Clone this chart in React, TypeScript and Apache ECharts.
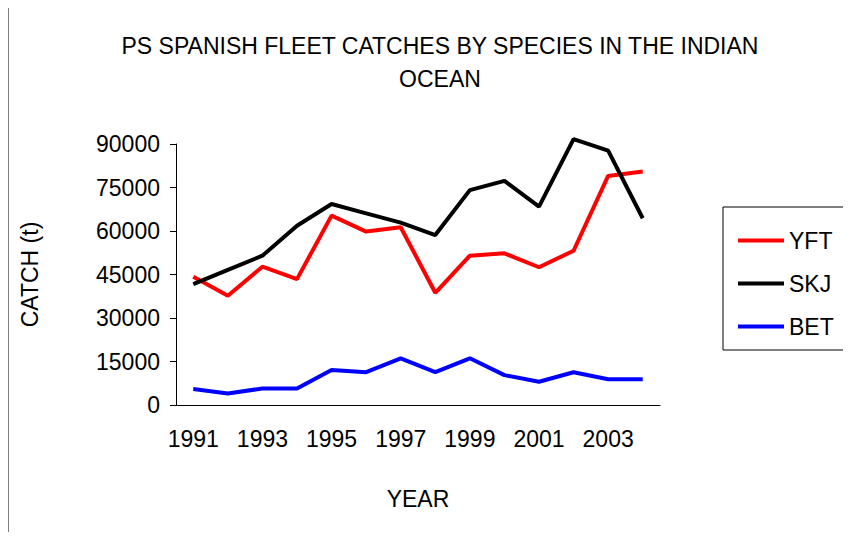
import * as echarts from "echarts";
import React, { useEffect, useRef } from "react";

const years = ["1991", "1992", "1993", "1994", "1995", "1996", "1997", "1998", "1999", "2000", "2001", "2002", "2003", "2004"];
const yft = [44200, 37700, 47700, 43400, 65300, 59800, 61300, 38700, 51500, 52300, 47500, 53200, 79000, 80500];
const skj = [41700, 46600, 51500, 61800, 69300, 66100, 62900, 58600, 74100, 77300, 68400, 91700, 87700, 64400];
const bet = [5500, 4000, 5700, 5700, 12100, 11300, 16100, 11300, 16100, 10300, 8000, 11300, 8900, 8900];

const font = "Liberation Sans, Arial, sans-serif";

export default function App() {
	const ref = useRef<HTMLDivElement>(null);

	useEffect(() => {
		const chart = echarts.init(ref.current, null, { renderer: "svg" });
		const line = (name: string, data: number[], color: string) => ({
			name,
			type: "line",
			data,
			symbol: "none",
			clip: false,
			lineStyle: { color, width: 4 },
			itemStyle: { color },
		});
		chart.setOption({
			animation: false,
			textStyle: { fontFamily: font },
			title: {
				text: "PS SPANISH FLEET CATCHES BY SPECIES IN THE INDIAN\nOCEAN",
				left: 435,
				textAlign: "center",
				top: 24,
				textStyle: { fontSize: 23, fontWeight: "normal", color: "#000", lineHeight: 33, fontFamily: font },
			},
			graphic: [
				{ type: "rect", shape: { x: 8, y: 0, width: 842, height: 539 }, style: { fill: "none", stroke: "#000", lineWidth: 1 }, silent: true },
				{ type: "rect", shape: { x: 723, y: 207, width: 127, height: 143 }, style: { fill: "none", stroke: "#000", lineWidth: 1 }, silent: true },
			],
			legend: {
				left: 733,
				top: 224,
				orient: "vertical",
				itemGap: 20,
				itemWidth: 46,
				itemHeight: 4,
				icon: "rect",
				textStyle: { fontSize: 23, color: "#000", fontFamily: font },
				data: ["YFT", "SKJ", "BET"],
			},
			grid: { left: 176, right: 191, top: 144, bottom: 135 },
			xAxis: {
				type: "category",
				data: years,
				name: "YEAR",
				nameLocation: "middle",
				nameGap: 82,
				nameTextStyle: { fontSize: 23, color: "#000" },
				axisLine: { lineStyle: { color: "#000" } },
				axisTick: { alignWithLabel: false, length: 6, lineStyle: { color: "#000" } },
				axisLabel: { interval: 1, fontSize: 23, color: "#000", margin: 22 },
			},
			yAxis: {
				type: "value",
				min: 0,
				max: 90000,
				interval: 15000,
				name: "CATCH (t)",
				nameLocation: "middle",
				nameGap: 135,
				nameTextStyle: { fontSize: 23, color: "#000" },
				axisLine: { show: true, lineStyle: { color: "#000" } },
				axisTick: { show: true, length: 6, lineStyle: { color: "#000" } },
				axisLabel: { fontSize: 23, color: "#000", margin: 16, formatter: (v: number) => String(v) },
				splitLine: { show: false },
			},
			series: [line("YFT", yft, "#ff0000"), line("SKJ", skj, "#000000"), line("BET", bet, "#0000ff")],
		});
		return () => chart.dispose();
	}, []);

	return <div ref={ref} style={{ width: 851, height: 540, margin: -8 }} />;
}
